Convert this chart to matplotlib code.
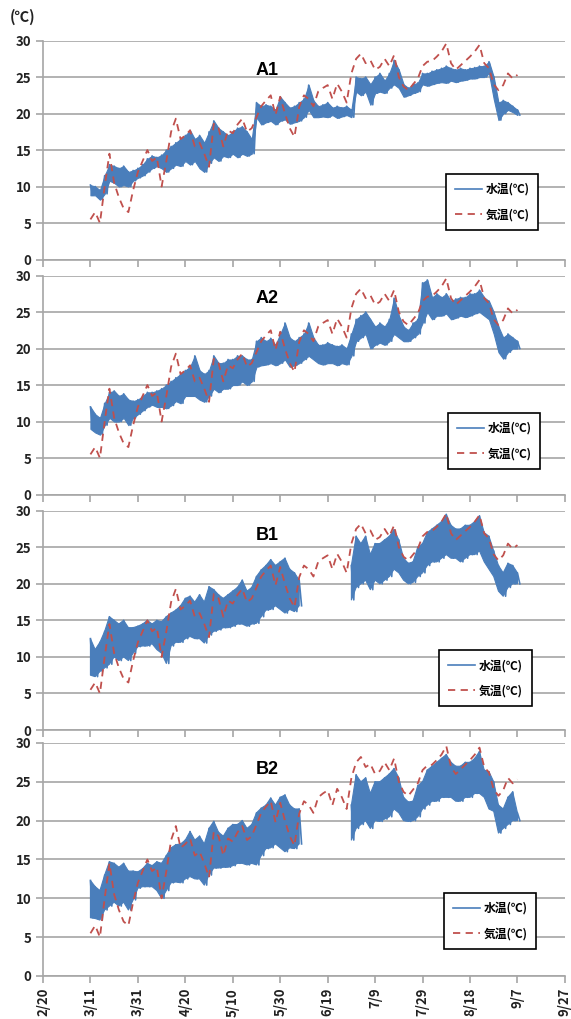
import datetime
import numpy as np
import matplotlib
matplotlib.use('Agg')
import matplotlib.pyplot as plt

plt.rcParams['font.family'] = ['Noto Sans CJK JP', 'DejaVu Sans']

# days counted from 2/20 (2012, leap year); one value every 2 days from 3/11 to 9/7
days = np.arange(20, 201, 2)
start = datetime.date(2012, 2, 20)
tick_days = list(range(0, 221, 20))
tick_labels = []
for t in tick_days:
    d = start + datetime.timedelta(days=t)
    tick_labels.append('%d/%d' % (d.month, d.day))

# air temperature (same in every panel)
air = [5.5, 6.5, 5.0, 10.0, 14.5, 10.5, 8.5, 7.0, 6.5, 9.5,
       12.0, 13.5, 15.0, 13.5, 14.0, 10.0, 13.5, 17.5, 19.3, 16.5,
       17.0, 17.7, 15.5, 16.0, 14.5, 12.7, 18.6, 18.0, 15.5, 17.7,
       17.3, 18.5, 19.3, 17.5, 18.0, 19.5, 21.0, 21.8, 22.5, 19.8,
       22.3, 20.0, 18.0, 16.8, 20.9, 22.5, 22.0, 21.0, 23.0, 23.5,
       23.9, 22.0, 24.1, 23.0, 21.5, 25.5, 27.5, 28.2, 26.9, 27.3,
       26.0, 26.4, 27.5, 26.5, 28.0, 25.0, 23.7, 23.2, 24.0, 24.8,
       26.5, 27.1, 27.2, 27.8, 28.5, 29.6, 26.9, 26.0, 26.6, 27.2,
       27.8, 28.5, 29.4, 26.9, 26.2, 24.0, 23.2, 23.9, 25.5, 24.8,
       25.3]

nan = np.nan

# water temperature: daily low / high
a1_lo = [8.8, 8.8, 8.2, 9.0, 10.8, 10.5, 10.0, 10.2, 10.0, 10.8,
         11.2, 11.5, 12.0, 12.5, 12.8, 12.5, 12.0, 12.5, 13.0, 12.8,
         13.5, 13.0, 13.5, 12.5, 12.0, 13.2, 14.0, 13.5, 14.2, 14.0,
         14.5, 14.0, 14.5, 14.2, 14.5, 19.5, 18.5, 18.8, 19.0, 18.5,
         19.0, 19.2, 18.6, 18.8, 19.0, 19.5, 20.5, 19.5, 19.5, 19.6,
         19.5, 19.8, 19.4, 19.6, 19.8, 19.5, 23.0, 22.5, 23.0, 21.2,
         22.8, 23.0, 22.8, 23.5, 24.0, 23.5, 22.3, 22.5, 22.8, 23.0,
         24.0, 23.8, 24.0, 24.2, 24.3, 24.2, 24.5, 24.3, 24.5, 24.6,
         24.8, 24.8, 25.0, 25.0, 25.5, 22.0, 19.1, 20.0, 20.5, 20.2,
         19.8]
a1_hi = [10.2, 10.0, 9.5, 11.5, 13.0, 12.8, 12.5, 12.8, 12.0, 12.2,
         12.5, 13.0, 13.8, 14.2, 14.0, 14.3, 15.0, 15.5, 16.0, 16.5,
         17.0, 17.7, 16.5, 17.0, 16.0, 17.5, 19.0, 18.0, 17.5, 17.0,
         17.5, 18.0, 18.2, 17.5, 16.5, 21.5, 21.0, 21.2, 21.0, 20.5,
         22.3, 21.5, 20.8, 21.0, 21.5, 22.0, 23.9, 21.8, 21.0, 21.2,
         21.5, 20.8, 21.0, 20.8, 21.0, 20.5, 25.0, 24.8, 25.0, 24.0,
         25.0, 25.5, 24.5, 25.5, 27.3, 26.0, 24.0, 23.5, 24.0, 24.2,
         25.5, 25.5, 25.8, 26.0, 26.2, 26.5, 26.2, 26.0, 26.2, 26.0,
         26.2, 26.3, 26.5, 26.5, 27.1, 25.0, 21.5, 21.8, 21.5, 21.0,
         20.5]

a2_lo = [9.0, 8.5, 8.2, 9.5, 10.5, 10.0, 10.0, 10.5, 9.5, 10.5,
         11.0, 11.5, 12.0, 12.3, 12.0, 12.0, 11.8, 12.2, 12.8, 12.5,
         13.5, 13.5, 13.5, 13.0, 12.7, 13.5, 14.5, 14.0, 14.5, 14.5,
         15.0, 15.0, 15.5, 15.0, 15.5, 17.5, 17.7, 17.8, 18.0, 17.7,
         18.0, 18.5, 17.5, 17.7, 18.0, 18.5, 19.0, 18.5, 18.0, 17.8,
         18.0, 18.0, 17.7, 18.0, 17.8, 19.0, 21.0, 21.5, 22.0, 20.0,
         20.5, 20.8, 20.5, 21.0, 22.0, 21.5, 21.0, 21.0, 21.5, 22.0,
         23.5, 25.0, 24.0, 24.5, 24.5, 24.8, 24.0, 24.2, 24.5, 24.3,
         24.5, 24.8, 25.0, 24.5, 24.0, 22.0, 19.5, 18.6, 19.5, 20.0,
         20.0]
a2_hi = [12.0, 11.0, 10.5, 12.5, 14.0, 14.2, 13.5, 13.8, 13.0, 12.8,
         13.0, 13.5, 14.0, 14.0, 14.2, 14.5, 15.0, 15.5, 16.0, 16.5,
         17.0, 17.5, 19.0, 17.0, 16.5, 17.0, 19.0, 18.0, 18.0, 18.5,
         18.5, 19.0, 19.0, 18.5, 18.5, 21.0, 21.5, 21.0, 21.4, 20.5,
         22.0, 23.5, 21.5, 21.0, 21.5, 22.0, 23.5, 21.5, 20.5, 20.5,
         20.8, 20.5, 20.3, 20.5, 20.0, 22.0, 24.0, 24.5, 25.0, 24.0,
         23.0, 23.5, 23.0, 24.0, 26.9, 24.5, 23.0, 22.5, 23.5, 24.0,
         29.0, 29.4, 27.0, 27.5, 27.0, 27.5, 26.5, 26.8, 27.0, 27.0,
         27.5, 27.5, 28.0, 27.0, 26.5, 25.0, 23.0, 21.5, 22.0, 21.5,
         21.0]

b1_lo = [7.5, 7.3, 8.0, 8.5, 9.0, 10.0, 9.5, 10.0, 9.5, 10.5,
         11.4, 11.5, 11.5, 11.8, 11.0, 10.5, 9.1, 11.5, 12.0, 12.0,
         12.5, 12.8, 12.5, 12.5, 11.9, 13.0, 13.5, 13.7, 14.0, 14.0,
         14.2, 14.5, 14.5, 14.2, 14.5, 14.6, 15.5, 16.4, 16.5, 17.0,
         16.5, 16.0, 16.5, 16.2, 17.0, nan, nan, nan, nan, nan,
         nan, nan, nan, nan, nan, 17.8, 19.5, 20.0, 20.5, 19.2,
         20.5, 20.0, 20.5, 21.0, 22.0, 21.5, 20.5, 20.0, 20.2, 21.0,
         21.5, 22.5, 23.0, 23.0, 23.5, 24.0, 23.5, 23.5, 23.0, 23.5,
         24.0, 24.0, 24.5, 23.0, 22.0, 21.0, 19.0, 18.3, 19.5, 20.0,
         20.0]
b1_hi = [12.5, 11.0, 12.0, 13.5, 15.5, 15.0, 14.5, 15.0, 14.0, 14.0,
         14.2, 14.5, 15.0, 14.5, 15.0, 14.8, 15.5, 16.0, 16.4, 17.0,
         18.0, 18.3, 17.5, 18.5, 17.5, 19.6, 19.2, 18.5, 18.0, 18.5,
         19.0, 19.5, 20.5, 19.0, 19.5, 21.0, 21.9, 22.5, 23.3, 22.5,
         23.0, 23.5, 22.0, 21.5, 20.5, nan, nan, nan, nan, nan,
         nan, nan, nan, nan, nan, 22.5, 26.5, 25.5, 26.5, 24.0,
         25.5, 25.5, 26.0, 26.5, 27.4, 26.0, 23.5, 22.8, 23.0, 25.0,
         25.5, 27.0, 27.5, 28.0, 28.5, 29.5, 28.0, 27.5, 27.5, 28.0,
         28.0, 28.5, 29.3, 27.0, 26.5, 24.5, 22.5, 21.5, 22.8, 22.5,
         21.5]

b2_lo = [7.5, 7.4, 7.2, 8.5, 9.0, 9.5, 9.0, 9.5, 8.5, 9.8,
         11.3, 11.5, 11.5, 11.5, 11.0, 10.0, 11.0, 12.0, 12.1, 12.0,
         12.5, 12.8, 12.5, 12.5, 11.7, 13.0, 13.9, 13.9, 14.0, 14.0,
         14.2, 14.5, 14.5, 14.3, 14.5, 14.3, 15.5, 16.4, 16.5, 17.0,
         16.5, 16.0, 16.5, 16.4, 17.0, nan, nan, nan, nan, nan,
         nan, nan, nan, nan, nan, 17.5, 19.0, 19.5, 20.0, 19.0,
         20.0, 19.9, 20.2, 20.5, 21.5, 21.0, 20.0, 19.9, 20.0, 20.5,
         21.5, 22.0, 22.5, 22.5, 23.0, 23.0, 23.0, 22.5, 22.5, 23.0,
         23.0, 23.5, 23.5, 23.0, 21.5, 21.2, 18.4, 19.0, 19.5, 20.0,
         20.0]
b2_hi = [12.3, 11.5, 11.0, 13.0, 14.7, 14.5, 14.0, 14.5, 13.5, 13.5,
         13.4, 13.8, 14.5, 14.2, 14.7, 14.5, 15.5, 16.5, 16.9, 17.0,
         17.5, 18.6, 17.5, 18.0, 17.0, 19.0, 19.9, 18.5, 18.0, 19.0,
         19.5, 19.5, 20.0, 19.0, 19.5, 21.0, 21.6, 22.0, 22.9, 22.0,
         23.0, 23.3, 22.0, 21.5, 21.5, nan, nan, nan, nan, nan,
         nan, nan, nan, nan, nan, 22.0, 25.9, 25.0, 25.5, 23.5,
         25.0, 25.0, 25.5, 26.0, 26.7, 25.5, 23.0, 22.4, 22.5, 24.5,
         25.0, 26.5, 27.0, 27.5, 28.0, 28.5, 27.5, 27.0, 27.0, 27.5,
         27.5, 28.0, 28.9, 26.5, 26.3, 25.0, 22.0, 21.5, 23.0, 23.7,
         21.0]

panels = ['A1', 'A2', 'B1', 'B2']
water = {'A1': (a1_lo, a1_hi), 'A2': (a2_lo, a2_hi),
         'B1': (b1_lo, b1_hi), 'B2': (b2_lo, b2_hi)}

blue = '#4A7EBB'
red = '#C0504D'
grid_c = '#A6A6A6'

fig = plt.figure(figsize=(5.71, 10.19), dpi=100)

# axes boxes in figure fractions (left, bottom, width, height)
boxes = [(0.0753, 0.7453, 0.914, 0.2149),
         (0.0753, 0.5147, 0.914, 0.2149),
         (0.0753, 0.2836, 0.914, 0.2152),
         (0.0753, 0.0422, 0.914, 0.2287)]
title_y = [0.865, 0.897, 0.889, 0.884]
leg_pos = [(0.772, 0.39), (0.776, 0.372), (0.759, 0.364), (0.768, 0.356)]

for i, name in enumerate(panels):
    ax = fig.add_axes(boxes[i])
    lo = np.array(water[name][0], dtype=float)
    hi = np.array(water[name][1], dtype=float)
    ok = ~np.isnan(lo)

    # daily swing as a zigzag line plus the band it sweeps
    zx = np.column_stack([days, days + 1]).ravel()
    zy = np.column_stack([hi, lo]).ravel()
    ax.fill_between(days, lo, hi, where=ok, color=blue, lw=0.8, zorder=2)
    ax.plot(zx, zy, color=blue, lw=1.2, zorder=2, label='水温(℃)')
    ax.plot(days, air, color=red, lw=1.3, dashes=(4, 3), zorder=3,
            label='気温(℃)')

    ax.set_xlim(0, 220)
    ax.set_ylim(0, 30)
    ax.set_yticks(range(0, 31, 5))
    ax.set_xticks(tick_days)
    ax.grid(axis='y', color=grid_c, lw=1.2)
    ax.set_axisbelow(True)
    for s in ['top', 'right']:
        ax.spines[s].set_visible(False)
    for s in ['left', 'bottom']:
        ax.spines[s].set_color(grid_c)
        ax.spines[s].set_linewidth(1.2)
    ax.tick_params(axis='both', direction='out', length=5, width=1.2,
                   color=grid_c, labelsize=9.5, labelcolor='#222222')
    for lab in ax.get_yticklabels():
        lab.set_fontweight('bold')
    if i < 3:
        ax.set_xticklabels([])
    else:
        ax.set_xticklabels(tick_labels, rotation=90, fontweight='bold')

    ax.text(0.429, title_y[i], name, transform=ax.transAxes, ha='center',
            va='center', fontsize=13, fontweight='bold',
            family='Liberation Sans')

    leg = ax.legend(loc='upper left', bbox_to_anchor=leg_pos[i],
                    borderaxespad=0, handlelength=2.3,
                    handletextpad=0.3, labelspacing=1.05, borderpad=0.75,
                    fancybox=False, framealpha=1, edgecolor='black',
                    prop={'weight': 'bold', 'size': 8.5})
    leg.get_frame().set_linewidth(1.2)

fig.text(23 / 571, 1 - 17 / 1019, '(℃)', ha='center', va='center',
         fontsize=10.5, fontweight='bold', color='#222222')

fig.savefig('out.png', dpi=100)
